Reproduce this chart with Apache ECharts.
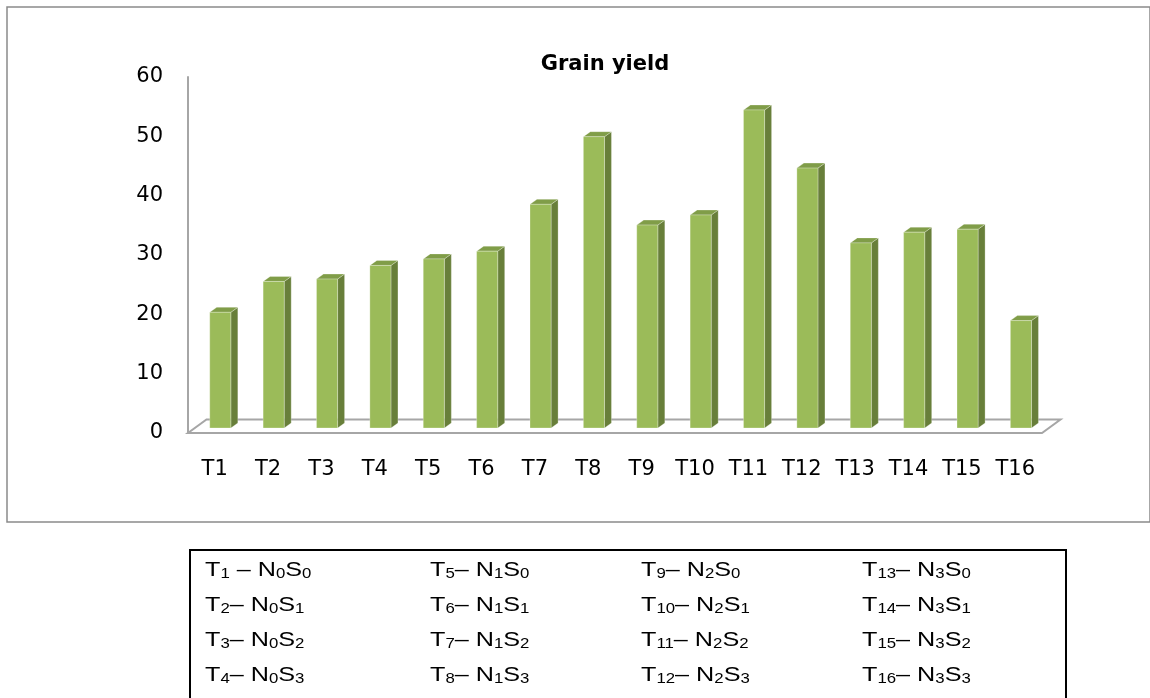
<!DOCTYPE html>
<html>
<head>
<meta charset="utf-8">
<script src="https://cdn.jsdelivr.net/npm/echarts/dist/echarts.min.js"></script>
<style>
html,body{margin:0;padding:0;background:#fff;}
#chart{width:1150px;height:698px;}
</style>
</head>
<body>
<div id="chart"></div>
<script>
// ---- data ----
const categories = ['T1','T2','T3','T4','T5','T6','T7','T8','T9','T10','T11','T12','T13','T14','T15','T16'];
const grainYield = [19.5, 24.7, 25.1, 27.4, 28.5, 29.8, 37.7, 49.1, 34.2, 35.9, 53.6, 43.8, 31.2, 33.0, 33.5, 18.1];
const yMin = 0, yMax = 60, yInterval = 10;
const chartTitle = 'Grain yield';

// key table: treatment -> N level, S level
const keyT   = [1, 2, 3, 4, 5, 6, 7, 8, 9, 10, 11, 12, 13, 14, 15, 16];
const keyN   = [0, 0, 0, 0, 1, 1, 1, 1, 2, 2, 2, 2, 3, 3, 3, 3];
const keyS   = [0, 1, 2, 3, 0, 1, 2, 3, 0, 1, 2, 3, 0, 1, 2, 3];
const keySep = [' \u2013 ', '\u2013 ', '\u2013 ', '\u2013 ', '\u2013 ', '\u2013 ', '\u2013 ', '\u2013 ',
                '\u2013 ', '\u2013 ', '\u2013 ', '\u2013 ', '\u2013 ', '\u2013 ', '\u2013 ', '\u2013 '];

// ---- chart ----
const chart = echarts.init(document.getElementById('chart'), null, {renderer: 'canvas'});

const FRONT = '#9bbb59', SIDE = '#687f3a', TOP = '#809d48';
const EDGE = 'rgba(255,255,255,0.45)';

function renderBar(params, api) {
  const i = api.value(0), v = api.value(1);
  const p0 = api.coord([i, 0]);
  const p1 = api.coord([i, v]);
  const band = api.size([1, 0])[0];
  const w = band * 0.395;
  const off = band * 0.105;
  const lift = 5, dx = 7, dy = -5;
  const xl = p0[0] - w / 2 + off, xr = xl + w;
  const yb = p0[1] - lift, yt = p1[1] - lift;
  return {
    type: 'group',
    children: [
      {type: 'polygon', shape: {points: [[xr, yt], [xr + dx, yt + dy], [xr + dx, yb + dy], [xr, yb]]},
       style: {fill: SIDE, stroke: EDGE, lineWidth: 0.6}},
      {type: 'polygon', shape: {points: [[xl, yt], [xl + dx, yt + dy], [xr + dx, yt + dy], [xr, yt]]},
       style: {fill: TOP, stroke: EDGE, lineWidth: 0.6}},
      {type: 'rect', shape: {x: xl, y: yt, width: w, height: yb - yt},
       style: {fill: FRONT, stroke: EDGE, lineWidth: 0.6}}
    ]
  };
}

function renderFloor(params, api) {
  const a = api.coord([0, 0]);
  const b = api.coord([categories.length - 1, 0]);
  const band = api.size([1, 0])[0];
  const xl = a[0] - band / 2, xr = b[0] + band / 2, y = a[1];
  const ddx = 18.5, ddy = -13.5;
  return {
    type: 'polygon',
    shape: {points: [[xl, y], [xr, y], [xr + ddx, y + ddy], [xl + ddx, y + ddy]]},
    style: {fill: '#ffffff', stroke: '#a6a6a6', lineWidth: 2}
  };
}

// key table as rich text
const keyRich = {
  n: {fontFamily: 'Liberation Sans', fontSize: 21, lineHeight: 24, color: '#000', verticalAlign: 'bottom'},
  s: {fontFamily: 'Liberation Sans', fontSize: 14, lineHeight: 12, color: '#000', verticalAlign: 'bottom'}
};
const colX = [205, 430, 641, 862];
const rowY = [569, 604, 639, 674];
const keyTexts = keyT.map((t, k) => {
  const col = Math.floor(k / 4), row = k % 4;
  const txt = '{n|T}{s|' + t + '}{n|' + keySep[k] + 'N}{s|' + keyN[k] + '}{n|S}{s|' + keyS[k] + '}';
  return {
    type: 'text',
    x: colX[col], y: rowY[row],
    scaleX: 1.2,
    style: {text: txt, rich: keyRich, align: 'left', verticalAlign: 'middle'}
  };
});

const option = {
  backgroundColor: '#ffffff',
  animation: false,
  title: {
    text: chartTitle,
    left: 600, top: 60,
    textAlign: 'center', textVerticalAlign: 'middle',
    textStyle: {fontFamily: 'DejaVu Sans', fontWeight: 'bold', fontSize: 21, color: '#000'}
  },
  grid: {left: 188, right: 108, top: 77, bottom: 265, containLabel: false},
  xAxis: {
    type: 'category',
    data: categories,
    boundaryGap: true,
    axisLine: {show: false},
    axisTick: {show: false},
    splitLine: {show: false},
    axisLabel: {fontFamily: 'DejaVu Sans', fontSize: 21, color: '#000', margin: 26, interval: 0}
  },
  yAxis: {
    type: 'value',
    min: yMin, max: yMax, interval: yInterval,
    axisLine: {show: true, lineStyle: {color: '#a6a6a6', width: 2}},
    axisTick: {show: false},
    splitLine: {show: false},
    axisLabel: {fontFamily: 'DejaVu Sans', fontSize: 21, color: '#000', margin: 25}
  },
  graphic: [
    {type: 'rect', shape: {x: 7, y: 7, width: 1143, height: 515},
     style: {fill: 'none', stroke: '#8a8a8a', lineWidth: 1.5}, z: 0, silent: true},
    {type: 'polyline', shape: {points: [[190, 698], [190, 550], [1066, 550], [1066, 698]]},
     style: {fill: 'none', stroke: '#000', lineWidth: 2}, silent: true}
  ].concat(keyTexts),
  series: [
    {
      type: 'custom',
      name: 'floor',
      renderItem: renderFloor,
      data: [[0, 0]],
      encode: {x: 0, y: 1},
      silent: true,
      z: 1
    },
    {
      type: 'custom',
      name: 'Grain yield',
      renderItem: renderBar,
      data: grainYield.map((v, i) => [i, v]),
      encode: {x: 0, y: 1},
      z: 2
    }
  ]
};
chart.setOption(option);
</script>
</body>
</html>
